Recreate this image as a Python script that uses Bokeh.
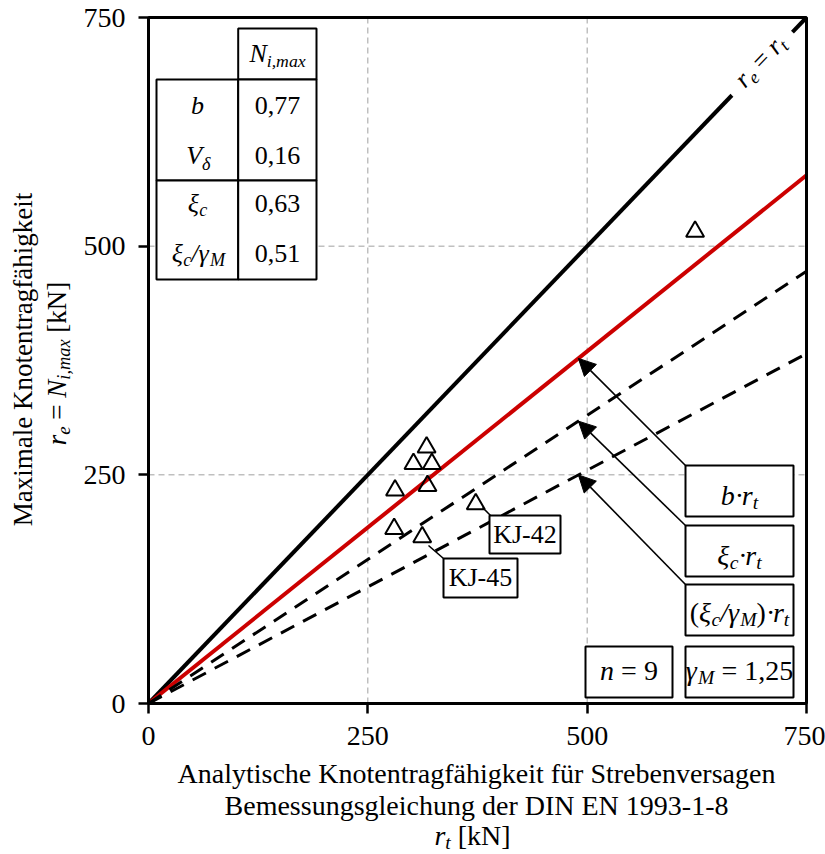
import math
from bokeh.plotting import figure
from bokeh.models import Range1d, FixedTicker, Label, BoxAnnotation, Arrow, NormalHead
from bokeh.embed import file_html
from bokeh.resources import INLINE

# ---------------- data ----------------
r_t = [317, 302, 323, 281, 318, 373, 280, 312, 623]      # analytic capacity [kN]
r_e = [280, 262, 262, 233, 238, 218, 191, 182, 516]      # max. node capacity [kN]
slope_b = 0.77
slope_xi = 0.63
slope_xi_gm = 0.51
line_x = [0, 750]
ticks = [0, 250, 500, 750]
grid_vals = [250, 500]
table_values = ["0,77", "0,16", "0,63", "0,51"]
n_tests = 9
gamma_M = "1,25"

FONT = "Liberation Serif"
W, H = 825, 854
L, R, T, B = 148, 806, 17, 703   # plot box in page pixels
XMAX = YMAX = 750
BASE_CORR = 0.37                  # baseline correction (em)


def dx(px):
    return (px - L) / (R - L) * XMAX


def dy(py):
    return (B - py) / (B - T) * YMAX


p = figure(width=W, height=H, output_backend="svg", toolbar_location=None,
           x_range=Range1d(dx(0), dx(W)), y_range=Range1d(dy(H), dy(0)),
           min_border_left=0, min_border_right=0, min_border_top=0, min_border_bottom=0)
p.background_fill_color = "white"
p.border_fill_color = "white"
p.outline_line_color = None
p.xgrid.visible = False
p.ygrid.visible = False

for ax in (p.xaxis[0], p.yaxis[0]):
    ax.fixed_location = 0
    ax.bounds = (0, 750)
    ax.ticker = FixedTicker(ticks=ticks)
    ax.axis_line_width = 3
    ax.axis_line_color = "black"
    ax.major_tick_line_width = 2.5
    ax.major_tick_line_color = "black"
    ax.major_tick_out = 10
    ax.major_tick_in = 0
    ax.minor_tick_line_color = None
    ax.major_label_text_font = FONT
    ax.major_label_text_font_size = "28px"
    ax.major_label_text_color = "black"
    ax.major_label_standoff = 13

# grid lines
p.segment(x0=grid_vals, y0=[0, 0], x1=grid_vals, y1=[YMAX, YMAX],
          line_color="#a0a0a0", line_dash="6 4", line_width=1)
p.segment(x0=[0, 0], y0=grid_vals, x1=[XMAX, XMAX], y1=grid_vals,
          line_color="#a0a0a0", line_dash="6 4", line_width=1)

REG = {' ': 0.25, '[': 0.333, ']': 0.333, 'k': 0.5, 'N': 0.722, '=': 0.564, ',': 0.25,
       '·': 0.25, '(': 0.333, ')': 0.333, '/': 0.278}
ITA = {'r': 0.389, 'e': 0.444, 't': 0.278, 'N': 0.667, 'i': 0.278, ',': 0.25, 'm': 0.722,
       'a': 0.5, 'x': 0.444, 'b': 0.5, 'V': 0.611, 'n': 0.5, 'c': 0.444, 'M': 0.833,
       'ξ': 0.44, 'δ': 0.48, 'γ': 0.44, '/': 0.278, ' ': 0.25}


def tw(text, style, size):
    tbl = ITA if style == 'i' else REG
    return sum(tbl.get(ch, 0.5) for ch in text) * size


def rich(runs, px, py, size, angle=0.0, align="center"):
    widths = [tw(t, s, size * r) for t, s, r, sh in runs]
    total = sum(widths)
    ca, sa = math.cos(angle), math.sin(angle)
    px -= BASE_CORR * size * sa
    py -= BASE_CORR * size * ca
    adv = -total / 2 if align == "center" else 0.0
    for (t, s, r, sh), w in zip(runs, widths):
        lead = len(t) - len(t.lstrip(' '))
        a = adv + lead * 0.25 * size * r
        X = px + a * ca + sh * size * sa
        Y = py - a * sa + sh * size * ca
        p.add_layout(Label(x=dx(X), y=dy(Y), text=t.strip(' '), angle=angle,
                           text_align="left", text_baseline="alphabetic", text_font=FONT,
                           text_font_size=f"{size * r:.1f}px",
                           text_font_style="italic" if s == "i" else "normal",
                           text_color="black"))
        adv += w


def plain(text, px, py, size, angle=0.0):
    px -= BASE_CORR * size * math.sin(angle)
    py -= BASE_CORR * size * math.cos(angle)
    p.add_layout(Label(x=dx(px), y=dy(py), text=text, angle=angle, text_align="center",
                       text_baseline="alphabetic", text_font=FONT,
                       text_font_size=f"{size}px", text_color="black"))


def box(x0, y0, x1, y1, lw=2, fill=True):
    p.add_layout(BoxAnnotation(left=dx(x0), right=dx(x1), top=dy(y0), bottom=dy(y1),
                               fill_color="white", fill_alpha=1.0 if fill else 0.0,
                               line_color="black", line_alpha=1.0, line_width=lw))


def seg(x0, y0, x1, y1, head=False):
    p.add_layout(Arrow(x_start=dx(x0), y_start=dy(y0), x_end=dx(x1), y_end=dy(y1),
                       line_width=1.6, line_color="black",
                       end=NormalHead(size=17, fill_color="black", line_color="black",
                                      line_width=1) if head else None))


# ---------------- lines ----------------
gap = (665, 734)
p.line([0, gap[0]], [0, gap[0]], line_color="black", line_width=4)
p.line([gap[1], 750], [gap[1], 750], line_color="black", line_width=4)
p.line(line_x, [slope_b * v for v in line_x], line_color="#cc0000", line_width=4)
p.line(line_x, [slope_xi * v for v in line_x], line_color="black", line_width=3,
       line_dash="15 10")
p.line(line_x, [slope_xi_gm * v for v in line_x], line_color="black", line_width=3,
       line_dash="15 10")

p.scatter(r_t, r_e, marker="triangle", size=18, fill_alpha=0, line_color="black",
          line_width=2)

# plot border
p.add_layout(BoxAnnotation(left=0, right=XMAX, bottom=0, top=YMAX, fill_alpha=0,
                           line_color="black", line_alpha=1.0, line_width=3))

# ---------------- table ----------------
box(237.7, 28, 316, 79)
box(156, 79, 237.7, 180)
box(237.7, 79, 316, 180)
box(156, 180, 237.7, 279)
box(237.7, 180, 316, 279)

TS = 26
rich([("N", 'i', 1, 0), ("i,max", 'i', 0.68, 0.28)], 277, 63, TS)
rich([("b", 'i', 1, 0)], 197, 115, TS)
rich([("V", 'i', 1, 0), ("δ", 'i', 0.7, 0.3)], 198, 165, TS)
rich([("ξ", 'i', 1, 0), ("c", 'i', 0.7, 0.25)], 197, 213, TS)
rich([("ξ", 'i', 1, 0), ("c", 'i', 0.7, 0.25), ("/", 'i', 1, 0), ("γ", 'i', 1, 0),
      ("M", 'i', 0.7, 0.25)], 198, 263, TS)
for val, base in zip(table_values, [115, 165, 213, 263]):
    plain(val, 277, base, TS)

# ---------------- callouts KJ ----------------
seg(482, 507, 490, 515)
box(489, 515, 560, 553)
plain("KJ-42", 524.5, 544, 26)
seg(428, 545, 443, 558)
box(443, 558, 517, 597)
plain("KJ-45", 480, 587, 26)

# ---------------- arrows + labels ----------------
tip_x = 490
for slope, ty in zip([slope_b, slope_xi, slope_xi_gm], [465, 525, 584]):
    tx_px = L + tip_x / XMAX * (R - L)
    ty_px = B - slope * tip_x / YMAX * (B - T)
    seg(685, ty, tx_px, ty_px, head=True)

box(685, 465, 793, 516)
box(685, 525, 793, 576)
box(685, 584, 793, 635)
box(585, 646, 672, 697)
box(685, 646, 793, 697)
BS = 28
rich([("b", 'i', 1, 0), ("·", 'n', 1, 0), ("r", 'i', 1, 0), ("t", 'i', 0.7, 0.25)], 739, 505, BS)
rich([("ξ", 'i', 1, 0), ("c", 'i', 0.7, 0.25), ("·", 'n', 1, 0), ("r", 'i', 1, 0),
      ("t", 'i', 0.7, 0.25)], 739, 565, BS)
rich([("(", 'n', 1, 0), ("ξ", 'i', 1, 0), ("c", 'i', 0.7, 0.25), ("/", 'i', 1, 0),
      ("γ", 'i', 1, 0), ("M", 'i', 0.7, 0.25), (")", 'n', 1, 0), ("·", 'n', 1, 0),
      ("r", 'i', 1, 0), ("t", 'i', 0.7, 0.25)], 739, 622, BS)
rich([("n", 'i', 1, 0), (f" = {n_tests}", 'n', 1, 0)], 628.5, 680, BS)
rich([("γ", 'i', 1, 0), ("M", 'i', 0.7, 0.25), (f" = {gamma_M}", 'n', 1, 0)], 739, 680, BS)

# r_e = r_t along the diagonal
ang = math.atan2(B - T, R - L)
rich([("r", 'i', 1, 0), ("e", 'i', 0.7, 0.25), (" = ", 'n', 1, 0), ("r", 'i', 1, 0),
      ("t", 'i', 0.7, 0.25)], 762 + 6 * math.sin(ang), 63 + 6 * math.cos(ang), 26,
     angle=ang)

# ---------------- axis titles ----------------
plain("Analytische Knotentragfähigkeit für Strebenversagen", 476, 783, 28)
plain("Bemessungsgleichung der DIN EN 1993-1-8", 476, 815, 28)
rich([("r", 'i', 1, 0), ("t", 'i', 0.7, 0.25), (" [kN]", 'n', 1, 0)], 472, 845, 28)

plain("Maximale Knotentragfähigkeit", 32, 359, 27, angle=math.pi / 2)
rich([("r", 'i', 1, 0), ("e", 'i', 0.7, 0.25), (" = ", 'n', 1, 0), ("N", 'i', 1, 0),
      ("i,max", 'i', 0.68, 0.28), (" [kN]", 'n', 1, 0)], 66, 363, 27, angle=math.pi / 2)

open("out.html", "w").write(file_html(p, INLINE))
